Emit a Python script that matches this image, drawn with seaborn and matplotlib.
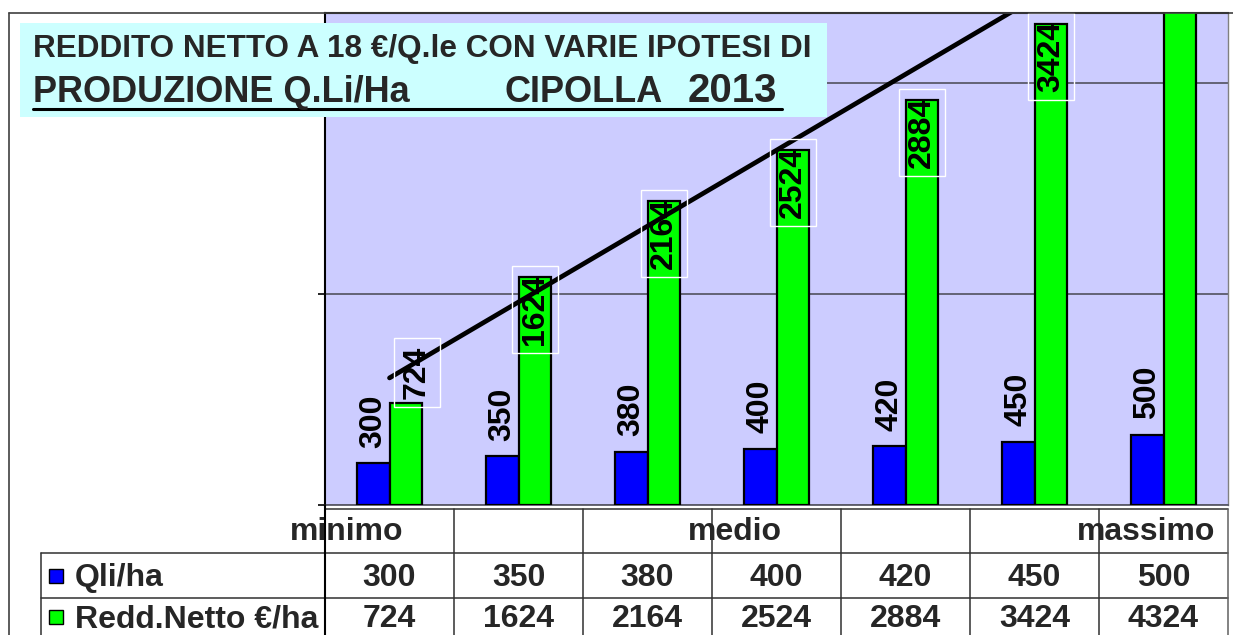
import numpy as np
import pandas as pd
import matplotlib
matplotlib.use("Agg")
import matplotlib.pyplot as plt
import matplotlib.transforms as mtransforms
from matplotlib.lines import Line2D
from matplotlib.patches import Rectangle
import seaborn as sns

# ---------------- data ----------------
livelli = ["minimo", "medio", "massimo"]
serie = ["Qli/ha", "Redd.Netto €/ha"]
qli_ha = [300, 350, 380, 400, 420, 450, 500]
redd_netto = [724, 1624, 2164, 2524, 2884, 3424, 4324]
titolo_1 = "REDDITO NETTO A 18 €/Q.le CON VARIE IPOTESI DI"
titolo_2a = "PRODUZIONE Q.Li/Ha"
titolo_2b = "CIPOLLA"
titolo_2c = "2013"
colori = ["#0000FF", "#00FF00"]

W, H = 1233, 635
sns.set_theme(style="white")
plt.rcParams["font.family"] = ["Liberation Sans", "DejaVu Sans"]

fig = plt.figure(figsize=(W / 100, H / 100), dpi=100)
fig.patch.set_facecolor("white")


def fx(x):
    return x / W


def fy(y):
    return 1 - y / H


ax = fig.add_axes([fx(325), fy(505), fx(1228) - fx(325), fy(13) - fy(505)])
ax.set_facecolor("#CCCCFF")

cats = [str(q) for q in qli_ha]
df = pd.DataFrame({
    "col": cats * 2,
    "valore": qli_ha + redd_netto,
    "serie": [serie[0]] * len(qli_ha) + [serie[1]] * len(redd_netto),
})
sns.barplot(data=df, x="col", y="valore", hue="serie", order=cats, hue_order=serie,
            palette=colori, width=0.51, gap=0, edgecolor="black", linewidth=1.6,
            saturation=1, errorbar=None, legend=False, ax=ax, zorder=3)

# linear trend line of net income
xi = np.arange(len(redd_netto))
sns.regplot(x=xi, y=np.array(redd_netto, dtype=float), ci=None, scatter=False,
            truncate=True, ax=ax, line_kws=dict(color="black", lw=3.4, zorder=5))

ax.set_xlim(-0.5, len(cats) - 0.5)
ax.set_ylim(0, 3500)
ax.set_yticks([0, 1500, 3000])
ax.set_yticklabels([])
ax.set_xticks([])
ax.set_xlabel("")
ax.set_ylabel("")
ax.tick_params(axis="y", left=True, length=5, width=1.2, color="black", direction="out")
ax.yaxis.grid(True, color="#5a5a6a", lw=1.3)
ax.set_axisbelow(True)
for side, col, lw in [("left", "black", 1.5), ("top", "black", 1.5),
                      ("right", "#808080", 1.0), ("bottom", "#5a5a6a", 1.3)]:
    ax.spines[side].set_visible(True)
    ax.spines[side].set_color(col)
    ax.spines[side].set_linewidth(lw)

# value labels
ax.bar_label(ax.containers[0], labels=[str(v) for v in qli_ha], rotation=90,
             padding=11, fontsize=23, fontweight="bold", color="black")
for p, v in zip(ax.containers[1], redd_netto):
    x = p.get_x() + p.get_width() / 2
    top = p.get_height()
    if v < 1000:
        va, off = "bottom", (8, 3)
    else:
        va, off = "top", (0, 2)
    ax.annotate(str(v), (x, top), xytext=off, textcoords="offset points",
                rotation=90, ha="center", va=va, fontsize=23, fontweight="bold",
                color="black", annotation_clip=True, zorder=6,
                bbox=dict(boxstyle="square,pad=0.25", fc="none", ec="white", lw=1))

# ---------------- data table ----------------
trans_col = mtransforms.blended_transform_factory(ax.transData, fig.transFigure)
lc = "#303030"
n = len(cats)


def hline(x0, x1, y):
    fig.add_artist(Line2D([fx(x0), fx(x1)], [fy(y), fy(y)], transform=fig.transFigure,
                          color=lc, lw=1.1))


hline(325, 1228, 509)
hline(41, 1228, 553)
hline(41, 1228, 598)
fig.add_artist(Line2D([fx(41), fx(41)], [fy(553), fy(640)], transform=fig.transFigure,
                      color=lc, lw=1.1))
fig.add_artist(Line2D([fx(325), fx(325)], [fy(505), fy(640)], transform=fig.transFigure,
                      color="black", lw=1.5))
for i in range(n):
    fig.add_artist(Line2D([i + 0.5, i + 0.5], [fy(509), fy(640)], transform=trans_col,
                          color=lc if i < n - 1 else "#606060", lw=1.1))

for i, (q, r) in enumerate(zip(qli_ha, redd_netto)):
    fig.text(i, fy(586), str(q), transform=trans_col, ha="center", va="baseline",
             fontsize=23, fontweight="bold")
    fig.text(i, fy(627), str(r), transform=trans_col, ha="center", va="baseline",
             fontsize=23, fontweight="bold")

fig.text(fx(403), fy(540), livelli[0], ha="right", va="baseline", fontsize=23, fontweight="bold")
fig.text(fx(735), fy(540), livelli[1], ha="center", va="baseline", fontsize=23, fontweight="bold")
fig.text(fx(1215), fy(540), livelli[2], ha="right", va="baseline", fontsize=23, fontweight="bold")

for k, (nome, yb) in enumerate(zip(serie, [586, 627])):
    fig.add_artist(Rectangle((fx(49), fy(yb - 3)), fx(14), 14 / H, transform=fig.transFigure,
                             fc=colori[k], ec="black", lw=1))
    fig.text(fx(75), fy(yb), nome, ha="left", va="baseline", fontsize=23, fontweight="bold")

# ---------------- outer frame ----------------
fig.add_artist(Line2D([fx(9), 1], [fy(13), fy(13)], transform=fig.transFigure,
                      color="#404040", lw=1.2))
fig.add_artist(Line2D([fx(9), fx(9)], [fy(13), 0], transform=fig.transFigure,
                      color="#404040", lw=1.2))

# ---------------- title box ----------------
fig.add_artist(Rectangle((fx(20), fy(117)), fx(807), (117 - 23) / H,
                         transform=fig.transFigure, fc="#CCFFFF", ec="none", zorder=2))
fig.text(fx(33), fy(57), titolo_1, ha="left", va="baseline", fontsize=22.7,
         fontweight="bold", zorder=3)
fig.text(fx(33), fy(102), titolo_2a, ha="left", va="baseline", fontsize=26,
         fontweight="bold", zorder=3)
fig.text(fx(505), fy(102), titolo_2b, ha="left", va="baseline", fontsize=26,
         fontweight="bold", zorder=3)
fig.text(fx(688), fy(102), titolo_2c, ha="left", va="baseline", fontsize=29,
         fontweight="bold", zorder=3)
fig.add_artist(Line2D([fx(33), fx(782)], [fy(108.5), fy(108.5)], transform=fig.transFigure,
                      color="black", lw=2.2, zorder=3))

fig.savefig("out.png", dpi=100)
